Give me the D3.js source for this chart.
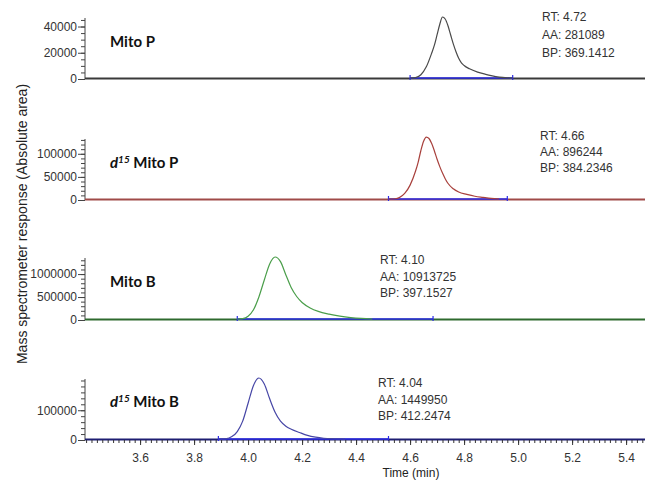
<!DOCTYPE html>
<html>
<head>
<meta charset="utf-8">
<script src="https://cdn.jsdelivr.net/npm/d3@7"></script>
<style>
  body { margin: 0; background: #fff; }
  svg { display: block; }
  .tick text { font-family: Arial, "Liberation Sans", sans-serif; font-size: 12px; fill: #333; }
</style>
</head>
<body>
<div id="chart"></div>
<script>
// Chromatograms, time in min and absolute response
const names = ['Mito P', 'd15 Mito P', 'Mito B', 'd15 Mito B']

const mitoPTime = [4.60, 4.62, 4.64, 4.66, 4.68, 4.69, 4.70, 4.71, 4.72, 4.73, 4.74, 4.75, 4.76, 4.77, 4.78, 4.79, 4.80, 4.82, 4.85, 4.88, 4.90, 4.93, 4.96, 4.98]
const mitoPValue = [0, 300, 2500, 8500, 19000, 25000, 33000, 41000, 46500, 45000, 40000, 33000, 26000, 20000, 15000, 11500, 9500, 7000, 4500, 2800, 1800, 600, 100, 0]

const d15MitoPTime = [4.52, 4.545, 4.56, 4.58, 4.60, 4.62, 4.63, 4.64, 4.65, 4.66, 4.67, 4.68, 4.69, 4.70, 4.71, 4.72, 4.73, 4.74, 4.76, 4.78, 4.81, 4.84, 4.87, 4.90, 4.93]
const d15MitoPValue = [0, 500, 3000, 12000, 30000, 60000, 80000, 105000, 125000, 134000, 131000, 120000, 104000, 86000, 70000, 56000, 44000, 34000, 22000, 15000, 10000, 6000, 3500, 1200, 0]

const mitoBTime = [3.96, 3.98, 4.00, 4.02, 4.04, 4.06, 4.08, 4.10, 4.12, 4.14, 4.16, 4.18, 4.20, 4.23, 4.26, 4.30, 4.34, 4.38, 4.42, 4.46]
const mitoBValue = [0, 8000, 60000, 200000, 480000, 850000, 1200000, 1350000, 1250000, 960000, 680000, 490000, 360000, 240000, 165000, 105000, 62000, 32000, 12000, 0]

const d15MitoBTime = [3.89, 3.92, 3.94, 3.96, 3.98, 4.00, 4.02, 4.04, 4.06, 4.08, 4.10, 4.12, 4.14, 4.16, 4.19, 4.22, 4.25, 4.28, 4.32, 4.36]
const d15MitoBValue = [0, 1000, 8000, 25000, 60000, 120000, 180000, 205000, 185000, 135000, 90000, 60000, 43000, 33000, 22000, 12000, 6000, 2500, 800, 0]

// integration baseline limits (start, end)
const integration = [[4.60, 4.98], [4.52, 4.96], [3.96, 4.685], [3.89, 4.52]]

// annotation text
const rtLabels = ['RT: 4.72', 'RT: 4.66', 'RT: 4.10', 'RT: 4.04']
const aaLabels = ['AA: 281089', 'AA: 896244', 'AA: 10913725', 'AA: 1449950']
const bpLabels = ['BP: 369.1412', 'BP: 384.2346', 'BP: 397.1527', 'BP: 412.2474']

// y axis ticks per panel
const yMax = [46500, 132000, 1350000, 205000]
const yLabelTicks = [[0, 20000, 40000], [0, 50000, 100000], [0, 500000, 1000000], [0, 100000]]
const yMinorStep = [5000, 10000, 100000, 20000]

const xTicks = [3.6, 3.8, 4.0, 4.2, 4.4, 4.6, 4.8, 5.0, 5.2, 5.4]

const series = [
  [mitoPTime, mitoPValue],
  [d15MitoPTime, d15MitoPValue],
  [mitoBTime, mitoBValue],
  [d15MitoBTime, d15MitoBValue]
]

// Our canvas
const width = 645,
  height = 481,
  left = 85

const panelBase = [79, 200, 320, 440]
const panelTop = [18, 139, 258, 379]
const curveColor = ['#4a4a4a', '#a8403c', '#4a9e4a', '#4646a6']
const baseColor = ['#3a3a3a', '#a04a48', '#2e6a2e', '#1e1e72']
const annX = [542, 540, 380, 378]
const annY = [21, 140, 264, 387]
const annGap = [18, 16, 16.5, 16.5]
const labelY = [47, 168, 287, 407]

let svg = d3.select('#chart')
  .append('svg')
  .attr('width', width)
  .attr('height', height)

const x = d3.scaleLinear()
  .domain([3.396, 5.47])
  .range([left, width])

series.forEach((s, i) => {
  const y = d3.scaleLinear()
    .domain([0, yMax[i]])
    .range([panelBase[i], panelTop[i]])

  const g = svg.append('g')

  // minor y ticks
  g.append('g')
    .attr('transform', `translate(${left},0)`)
    .call(d3.axisLeft(y).tickValues(d3.range(0, yMax[i] + 1, yMinorStep[i])).tickSize(4).tickFormat(''))
    .call(a => a.select('.domain').remove())
    .selectAll('line').attr('stroke', '#444')

  // labelled y ticks
  g.append('g')
    .attr('transform', `translate(${left},0)`)
    .call(d3.axisLeft(y).tickValues(yLabelTicks[i]).tickSize(7).tickPadding(1).tickFormat(d3.format('d')))
    .call(a => a.select('.domain').attr('d', `M0,${panelTop[i]}V${panelBase[i]}`).attr('stroke', '#444'))
    .selectAll('line').attr('stroke', '#444')

  // flat baseline across the whole range
  g.append('line')
    .attr('x1', left).attr('x2', width)
    .attr('y1', y(0) - 0.5).attr('y2', y(0) - 0.5)
    .attr('stroke', baseColor[i])
    .attr('stroke-width', 2.2)

  // integration baseline
  const [t0, t1] = integration[i]
  g.append('line')
    .attr('x1', x(t0)).attr('x2', x(t1))
    .attr('y1', y(0) - 1).attr('y2', y(0) - 1)
    .attr('stroke', '#2b2be6')
    .attr('stroke-width', 1.6)
  g.selectAll('.end')
    .data([t0, t1])
    .enter()
    .append('line')
    .attr('x1', d => x(d)).attr('x2', d => x(d))
    .attr('y1', y(0) - 4).attr('y2', y(0) + 1)
    .attr('stroke', '#2b2be6')
    .attr('stroke-width', 1.2)

  // the peak
  const pts = s[0].map((t, j) => [t, s[1][j]])
  g.append('path')
    .datum(pts)
    .attr('fill', 'none')
    .attr('stroke', curveColor[i])
    .attr('stroke-width', 1.2)
    .attr('d', d3.line().x(d => x(d[0])).y(d => y(d[1]) - 1).curve(d3.curveMonotoneX))

  // compound name
  const lab = g.append('text')
    .attr('x', 110)
    .attr('y', labelY[i])
    .attr('font-family', 'Lato, "Open Sans", sans-serif')
    .attr('font-weight', 'bold')
    .attr('font-size', 15)
    .attr('fill', '#111')
  if (names[i].startsWith('d15')) {
    lab.append('tspan').attr('font-style', 'italic').text('d')
    lab.append('tspan').attr('font-style', 'italic').attr('font-size', 10).attr('dy', -5).text('15')
    lab.append('tspan').attr('dy', 5).text(' ' + names[i].slice(4))
  } else {
    lab.text(names[i])
  }

  // RT / AA / BP
  g.selectAll('.ann')
    .data([rtLabels[i], aaLabels[i], bpLabels[i]])
    .enter()
    .append('text')
    .attr('x', annX[i])
    .attr('y', (d, k) => annY[i] + k * annGap[i])
    .attr('font-family', 'Arial, "Liberation Sans", sans-serif')
    .attr('font-size', 12)
    .attr('fill', '#333')
    .text(d => d)
})

// x axis on bottom panel
const xMinor = d3.range(3.40, 5.47, 0.02).map(d => +d.toFixed(2))
svg.append('g')
  .attr('transform', `translate(0,${panelBase[3]})`)
  .call(d3.axisBottom(x).tickValues(xMinor).tickSize(3).tickFormat(''))
  .call(a => a.select('.domain').remove())
  .selectAll('line').attr('stroke', '#333')

svg.append('g')
  .attr('transform', `translate(0,${panelBase[3]})`)
  .call(d3.axisBottom(x).tickValues(xTicks).tickSize(5).tickPadding(8).tickFormat(d3.format('.1f')))
  .call(a => a.select('.domain').remove())
  .selectAll('line').attr('stroke', '#333')

svg.append('text')
  .attr('x', 411)
  .attr('y', 477)
  .attr('text-anchor', 'middle')
  .attr('font-family', 'Arial, "Liberation Sans", sans-serif')
  .attr('font-size', 12)
  .attr('fill', '#222')
  .text('Time (min)')

svg.append('text')
  .attr('transform', 'translate(27,224) rotate(-90)')
  .attr('text-anchor', 'middle')
  .attr('font-family', 'Arial, "Liberation Sans", sans-serif')
  .attr('font-size', 14)
  .attr('fill', '#222')
  .text('Mass spectrometer response (Absolute area)')
</script>
</body>
</html>
